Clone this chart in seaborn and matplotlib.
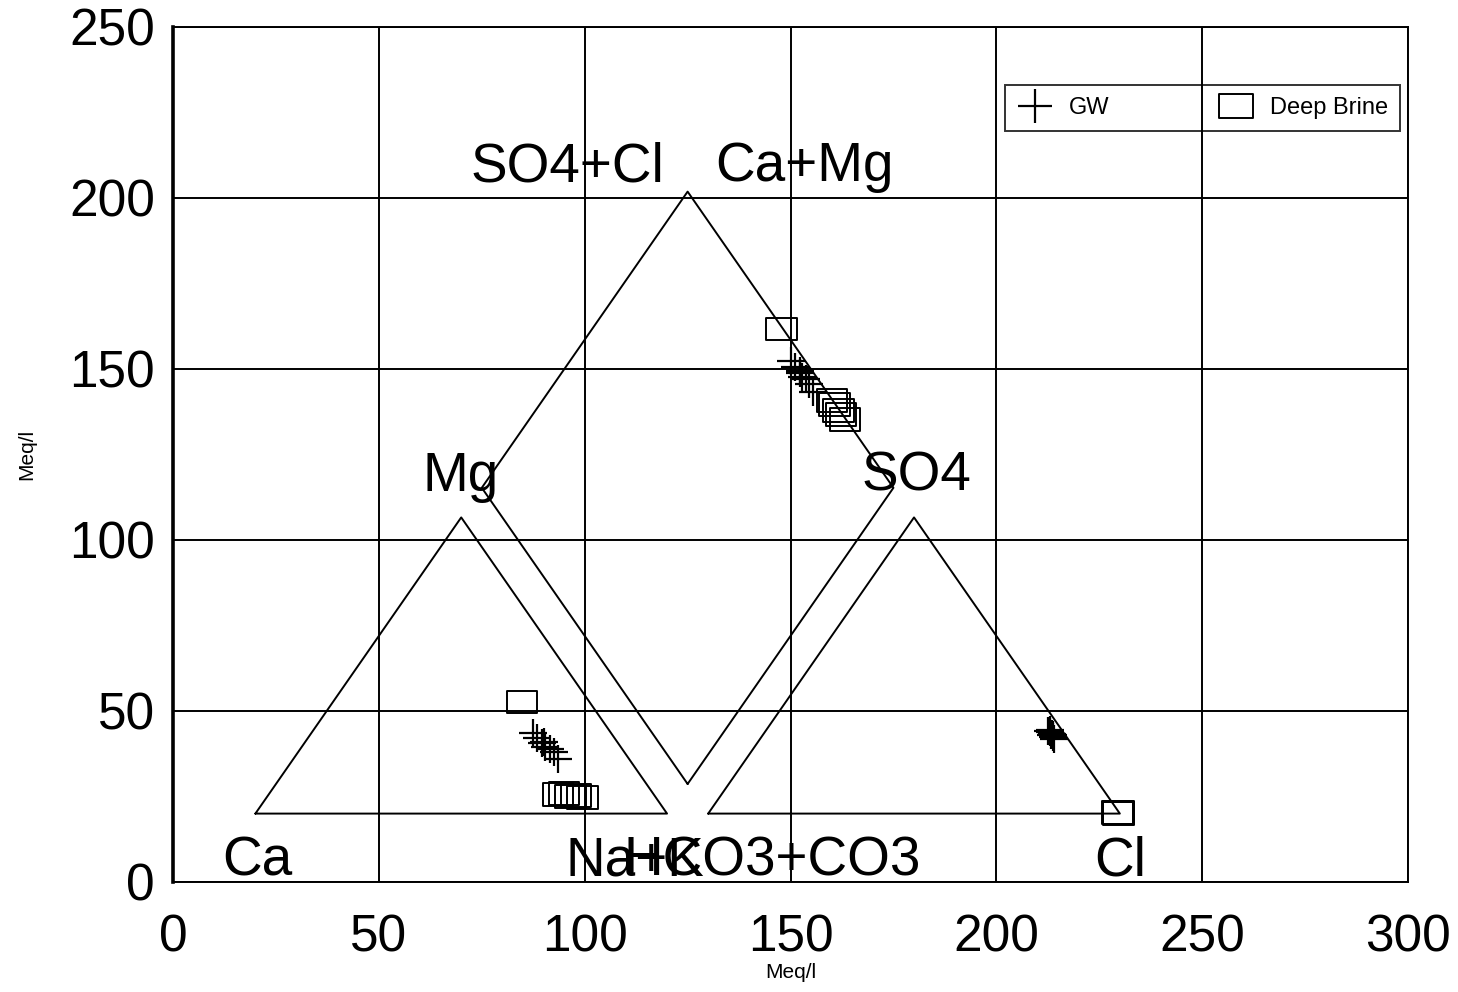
import numpy as np
import pandas as pd
import matplotlib
matplotlib.use("Agg")
import matplotlib.pyplot as plt
from matplotlib.path import Path
from matplotlib.lines import Line2D
import seaborn as sns

# ---------------- data (percent of meq) ----------------
gw_mg  = [27.3, 25.4, 23.7, 22.5, 21.9, 20.8, 18.5, 24.2]
gw_nak = [53.7, 55.8, 57.7, 59.2, 60.5, 62.1, 64.3, 57.9]
gw_so4 = [28.0, 26.6, 27.0, 25.8, 28.3, 26.4, 25.3, 27.5]
gw_cl  = [68.6, 70.0, 70.0, 70.8, 68.9, 70.6, 71.4, 69.3]

brine_mg  = [37.6, 6.4, 6.7, 5.8, 6.1, 5.5]
brine_nak = [46.0, 70.3, 71.6, 73.6, 74.9, 76.7]
brine_so4 = [0.2, 0.3, 0.1, 0.2, 0.3, 0.2]
brine_cl  = [99.4, 99.5, 99.6, 99.5, 99.3, 99.6]

x_ticks = [0, 50, 100, 150, 200, 250, 300]
y_ticks = [0, 50, 100, 150, 200, 250]
series_names = ["GW", "Deep Brine"]

# ---------------- Piper geometry ----------------
OFF = 20.0     # offset of triangle bases
SIDE = 100.0   # triangle side
GAP = 10.0     # gap between triangles
H = np.sqrt(3) / 2


def cation_xy(mg, nak):
    mg, nak = np.asarray(mg), np.asarray(nak)
    return OFF + nak + mg / 2, OFF + mg * H


def anion_xy(so4, cl):
    so4, cl = np.asarray(so4), np.asarray(cl)
    x0 = OFF + SIDE + GAP
    return x0 + cl + so4 / 2, OFF + so4 * H


def diamond_xy(mg, nak, so4, cl):
    xc, yc = cation_xy(mg, nak)
    xa, ya = anion_xy(so4, cl)
    tps = (xa - xc) / 0.5
    tms = (ya - yc) / H
    t = (tps + tms) / 2
    return xc + 0.5 * t, yc + H * t


def build_frame():
    cx = [OFF, OFF + SIDE, OFF + SIDE / 2, OFF]
    cy = [OFF, OFF, OFF + SIDE * H, OFF]
    x0 = OFF + SIDE + GAP
    ax_ = [x0, x0 + SIDE, x0 + SIDE / 2, x0]
    ay_ = [OFF, OFF, OFF + SIDE * H, OFF]
    bx = OFF + SIDE + GAP / 2
    by = OFF + GAP / 2 * np.tan(np.pi / 3)
    dx = [bx, bx + SIDE / 2, bx, bx - SIDE / 2, bx]
    dy = [by, by + SIDE * H, by + 2 * SIDE * H, by + SIDE * H, by]
    return (cx, cy), (ax_, ay_), (dx, dy)


rows = []
for name, mg, nak, so4, cl in [("GW", gw_mg, gw_nak, gw_so4, gw_cl),
                               ("Deep Brine", brine_mg, brine_nak, brine_so4, brine_cl)]:
    for fx, fy in [cation_xy(mg, nak), anion_xy(so4, cl), diamond_xy(mg, nak, so4, cl)]:
        for a, b in zip(fx, fy):
            rows.append({"group": name, "x": a, "y": b})
df = pd.DataFrame(rows)

# ---------------- plot ----------------
sns.set_style("white")
plt.rcParams["font.family"] = ["Liberation Sans", "DejaVu Sans"]
plt.rcParams["text.color"] = "black"
plt.rcParams["axes.labelcolor"] = "black"
plt.rcParams["xtick.color"] = "black"
plt.rcParams["ytick.color"] = "black"

fig = plt.figure(figsize=(14.58, 9.92), dpi=100)
ax = fig.add_axes([0.1187, 0.1109, 0.847, 0.8619])

for fx, fy in build_frame():
    ax.plot(fx, fy, color="black", lw=1.4, zorder=2)

rect = Path([(-1.35, -1), (1.35, -1), (1.35, 1), (-1.35, 1), (-1.35, -1)],
            [Path.MOVETO, Path.LINETO, Path.LINETO, Path.LINETO, Path.CLOSEPOLY])

gw = df[df.group == "GW"]
br = df[df.group == "Deep Brine"]
sns.scatterplot(data=gw, x="x", y="y", marker="+", s=420, color="black",
                linewidth=1.6, ax=ax, zorder=3, legend=False)
sns.scatterplot(data=br, x="x", y="y", marker=rect, s=480, facecolor="none",
                edgecolor="black", linewidth=1.4, ax=ax, zorder=3, legend=False)

# corner labels
lab_kw = dict(fontsize=39.5, ha="center", va="center", color="black", zorder=4)
ax.text(20.4, 6.0, "Ca", **lab_kw)
ax.text(112.3, 6.0, "Na+K", **lab_kw)
ax.text(145.5, 6.0, "HCO3+CO3", **lab_kw)
ax.text(230.0, 6.0, "Cl", **lab_kw)
ax.text(69.8, 118.5, "Mg", **lab_kw)
ax.text(180.5, 118.5, "SO4", **lab_kw)
ax.text(95.7, 209.0, "SO4+Cl", **lab_kw)
ax.text(153.5, 209.0, "Ca+Mg", **lab_kw)

ax.set_xlim(0, 300)
ax.set_ylim(0, 250)
ax.set_xticks(x_ticks)
ax.set_yticks(y_ticks)
ax.set_xticklabels([str(v) for v in x_ticks])
ax.set_yticklabels([str(v) for v in y_ticks])
ax.tick_params(axis="both", labelsize=37, length=11, width=1.5, direction="out",
               color="black", labelcolor="black")
ax.tick_params(axis="x", pad=12)
ax.tick_params(axis="y", pad=2)
ax.grid(True, color="black", lw=1.4)
ax.set_axisbelow(True)
for side, sp in ax.spines.items():
    sp.set_color("black")
    sp.set_linewidth(1.4)
ax.spines["left"].set_linewidth(2.6)

ax.set_xlabel("Meq/l", fontsize=15, labelpad=0, color="black")
ax.set_ylabel("Meq/l", fontsize=15, labelpad=24, color="black")

handles = [Line2D([], [], marker="+", color="black", ls="none", markersize=24, mew=1.6),
           Line2D([], [], marker=rect, color="black", mfc="none", ls="none",
                  markersize=24, mew=1.4)]
leg = ax.legend(handles, series_names, ncol=2, loc="upper left",
                bbox_to_anchor=(0.674, 0.877, 0.3195, 0.055), mode="expand",
                borderaxespad=0, fontsize=17, frameon=True, fancybox=False,
                edgecolor="black", facecolor="none", framealpha=None,
                handletextpad=0.7, borderpad=0.5, columnspacing=1.0,
                handlelength=1.5)
leg.get_frame().set_linewidth(1.4)
for t in leg.get_texts():
    t.set_color("black")

fig.savefig("out.png", dpi=100)
